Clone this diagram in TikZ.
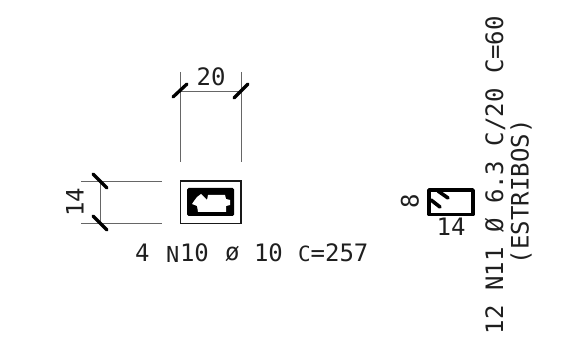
\documentclass[tikz,border=0pt]{standalone}
\usepackage{fontspec}
\setmonofont{DejaVu Sans Mono}
\tikzset{
  x=1pt,y=-1pt,
  lbl/.style={inner sep=0pt,outer sep=0pt,font=\ttfamily\fontsize{24}{24}\selectfont,text=black!88},
  sml/.style={lbl,font=\ttfamily\fontsize{22}{22}\selectfont},
  dimline/.style={draw=black!60,line width=0.9pt},
  tick/.style={draw=black,line width=3.3pt,line cap=round},
  bar/.style={draw=black,line width=3.6pt,line join=round,line cap=round},
}
\begin{document}
\begin{tikzpicture}
\useasboundingbox (0,0) rectangle (585,352);
\coordinate (wa) at (180,72); \coordinate (wb) at (180,162);
\coordinate (wc) at (241,72); \coordinate (wd) at (241,162);
\coordinate (wl) at (180,91); \coordinate (wr) at (241,91);
\coordinate (ha) at (81,181); \coordinate (hb) at (162,181);
\coordinate (hc) at (81,223); \coordinate (hd) at (162,223);
\coordinate (ht) at (100,181); \coordinate (hl) at (100,223);
\draw[dimline] (wa)--(wb); \draw[dimline] (wc)--(wd); \draw[dimline] (wl)--(wr);
\draw[dimline] (ha)--(hb); \draw[dimline] (hc)--(hd); \draw[dimline] (ht)--(hl);
\draw[tick] (173,97)--(187,84);
\draw[tick] (234,98)--(248,84);
\draw[tick] (93,174)--(107,188);
\draw[tick] (93,216)--(107,230);
\node[lbl] (w20) at (211,77) {20};
\node[lbl,rotate=90] (h14) at (75,202) {14};
% section
\draw[line width=1.5pt,draw=black!90] (180.5,181) rectangle (241,223.5);
\fill[black,rounded corners=1.5pt] (187,188) rectangle (234,216);
\fill[white] (197,197)--(201,194)--(207,200)--(208,195)--(225,195)--(226,199)--(230,200)--(230,205)--(226,206)--(226,212)--(198,212)--(197,206)--(192,204)--(194,201)--cycle;
% stirrup
\draw[bar] (429,190) rectangle (473,214.5);
\draw[bar] (438,191)--(448,198);
\draw[bar] (431,200)--(440,207);
\node[lbl,rotate=90] (s8) at (410,201) {8};
\node[lbl] (s14) at (451,227) {14};
% labels
\node[lbl,anchor=west] (t1) at (135,253) {4};
\node[sml,anchor=west] (tn) at (166,254) {N};
\node[lbl,anchor=west] (t2) at (180,253) {10};
\node[lbl,anchor=west] (tp) at (225,254) {ø};
\node[lbl,anchor=west] (t3) at (254,253) {10};
\node[lbl,anchor=west] (t4) at (298,253) {\fontsize{21}{21}\selectfont C\fontsize{24}{24}\selectfont =257};
\node[lbl,anchor=west,rotate=90] (m1) at (495,334) {12 N11 Ø 6.3 C/20  C=60};
\node[lbl,anchor=west,rotate=90] (m2) at (521,264) {(ESTRIBOS)};
\end{tikzpicture}
\end{document}
